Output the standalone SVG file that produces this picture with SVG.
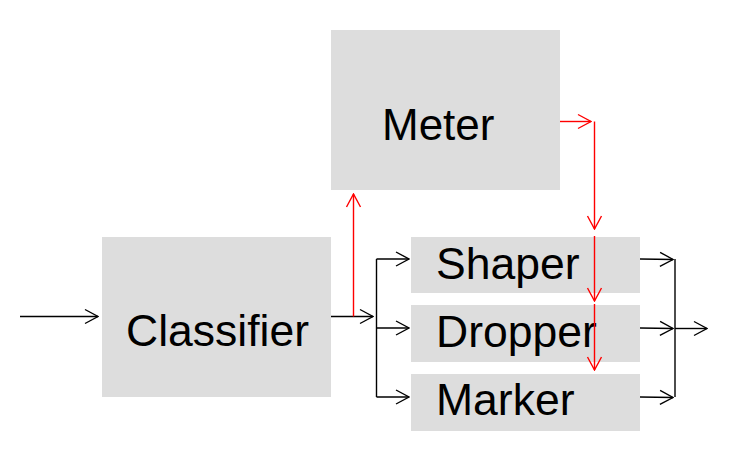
<svg xmlns="http://www.w3.org/2000/svg" width="739" height="454" viewBox="0 0 739 454">
<style>
.box{fill:#dddddd;stroke:none}
.lbl{font-family:"Liberation Sans",Arial,sans-serif;font-size:44.5px;fill:#000}
.blk{stroke:#000;stroke-width:1.4;fill:none}
.red{stroke:#ff0000;stroke-width:1.4;fill:none}
</style>
<defs>
<marker id="ab" markerUnits="userSpaceOnUse" markerWidth="16" markerHeight="18" viewBox="-15 -9 16 18" refX="0" refY="0" orient="auto">
<path d="M-13,-7 L0,0 L-13,7" fill="none" stroke="#000" stroke-width="1.4"/>
</marker>
<marker id="ar" markerUnits="userSpaceOnUse" markerWidth="16" markerHeight="18" viewBox="-15 -9 16 18" refX="0" refY="0" orient="auto">
<path d="M-13,-7 L0,0 L-13,7" fill="none" stroke="#ff0000" stroke-width="1.4"/>
</marker>
</defs>
<g id="meter"><rect class="box" x="331" y="30" width="229" height="160"/><text class="lbl" x="382" y="140" style="font-size:44px">Meter</text></g>
<g id="classifier"><rect class="box" x="102" y="237" width="229" height="160"/><text class="lbl" x="126" y="346">Classifier</text></g>
<g id="shaper"><rect class="box" x="411" y="237" width="229" height="56"/><text class="lbl" x="436" y="279">Shaper</text></g>
<g id="dropper"><rect class="box" x="411" y="305" width="229" height="57"/><text class="lbl" x="436" y="347">Dropper</text></g>
<g id="marker"><rect class="box" x="411" y="374" width="229" height="57"/><text class="lbl" x="436" y="415">Marker</text></g>
<g id="connectors">
<line class="blk" x1="20" y1="316.5" x2="98" y2="316.5" marker-end="url(#ab)"/>
<line class="blk" x1="331" y1="316.5" x2="373" y2="316.5" marker-end="url(#ab)"/>
<line class="red" x1="353.5" y1="316.5" x2="353.5" y2="194" marker-end="url(#ar)"/>
<line class="blk" x1="376.5" y1="259" x2="376.5" y2="397"/>
<line class="blk" x1="376.5" y1="259" x2="409" y2="259" marker-end="url(#ab)"/>
<line class="blk" x1="376.5" y1="328" x2="409" y2="328" marker-end="url(#ab)"/>
<line class="blk" x1="376.5" y1="397" x2="409" y2="397" marker-end="url(#ab)"/>
<line class="red" x1="560" y1="121.5" x2="591" y2="121.5" marker-end="url(#ar)"/>
<line class="red" x1="594.5" y1="121.5" x2="594.5" y2="229" marker-end="url(#ar)"/>
<line class="red" x1="594.5" y1="236" x2="594.5" y2="301" marker-end="url(#ar)"/>
<line class="red" x1="594.5" y1="304" x2="594.5" y2="370" marker-end="url(#ar)"/>
<line class="blk" x1="640" y1="259" x2="673" y2="259.5" marker-end="url(#ab)"/>
<line class="blk" x1="640" y1="328" x2="673" y2="328.5" marker-end="url(#ab)"/>
<line class="blk" x1="640" y1="397" x2="673" y2="397.5" marker-end="url(#ab)"/>
<line class="blk" x1="675" y1="259" x2="675" y2="397"/>
<line class="blk" x1="675" y1="328.5" x2="707" y2="328.5" marker-end="url(#ab)"/>
</g>
</svg>
